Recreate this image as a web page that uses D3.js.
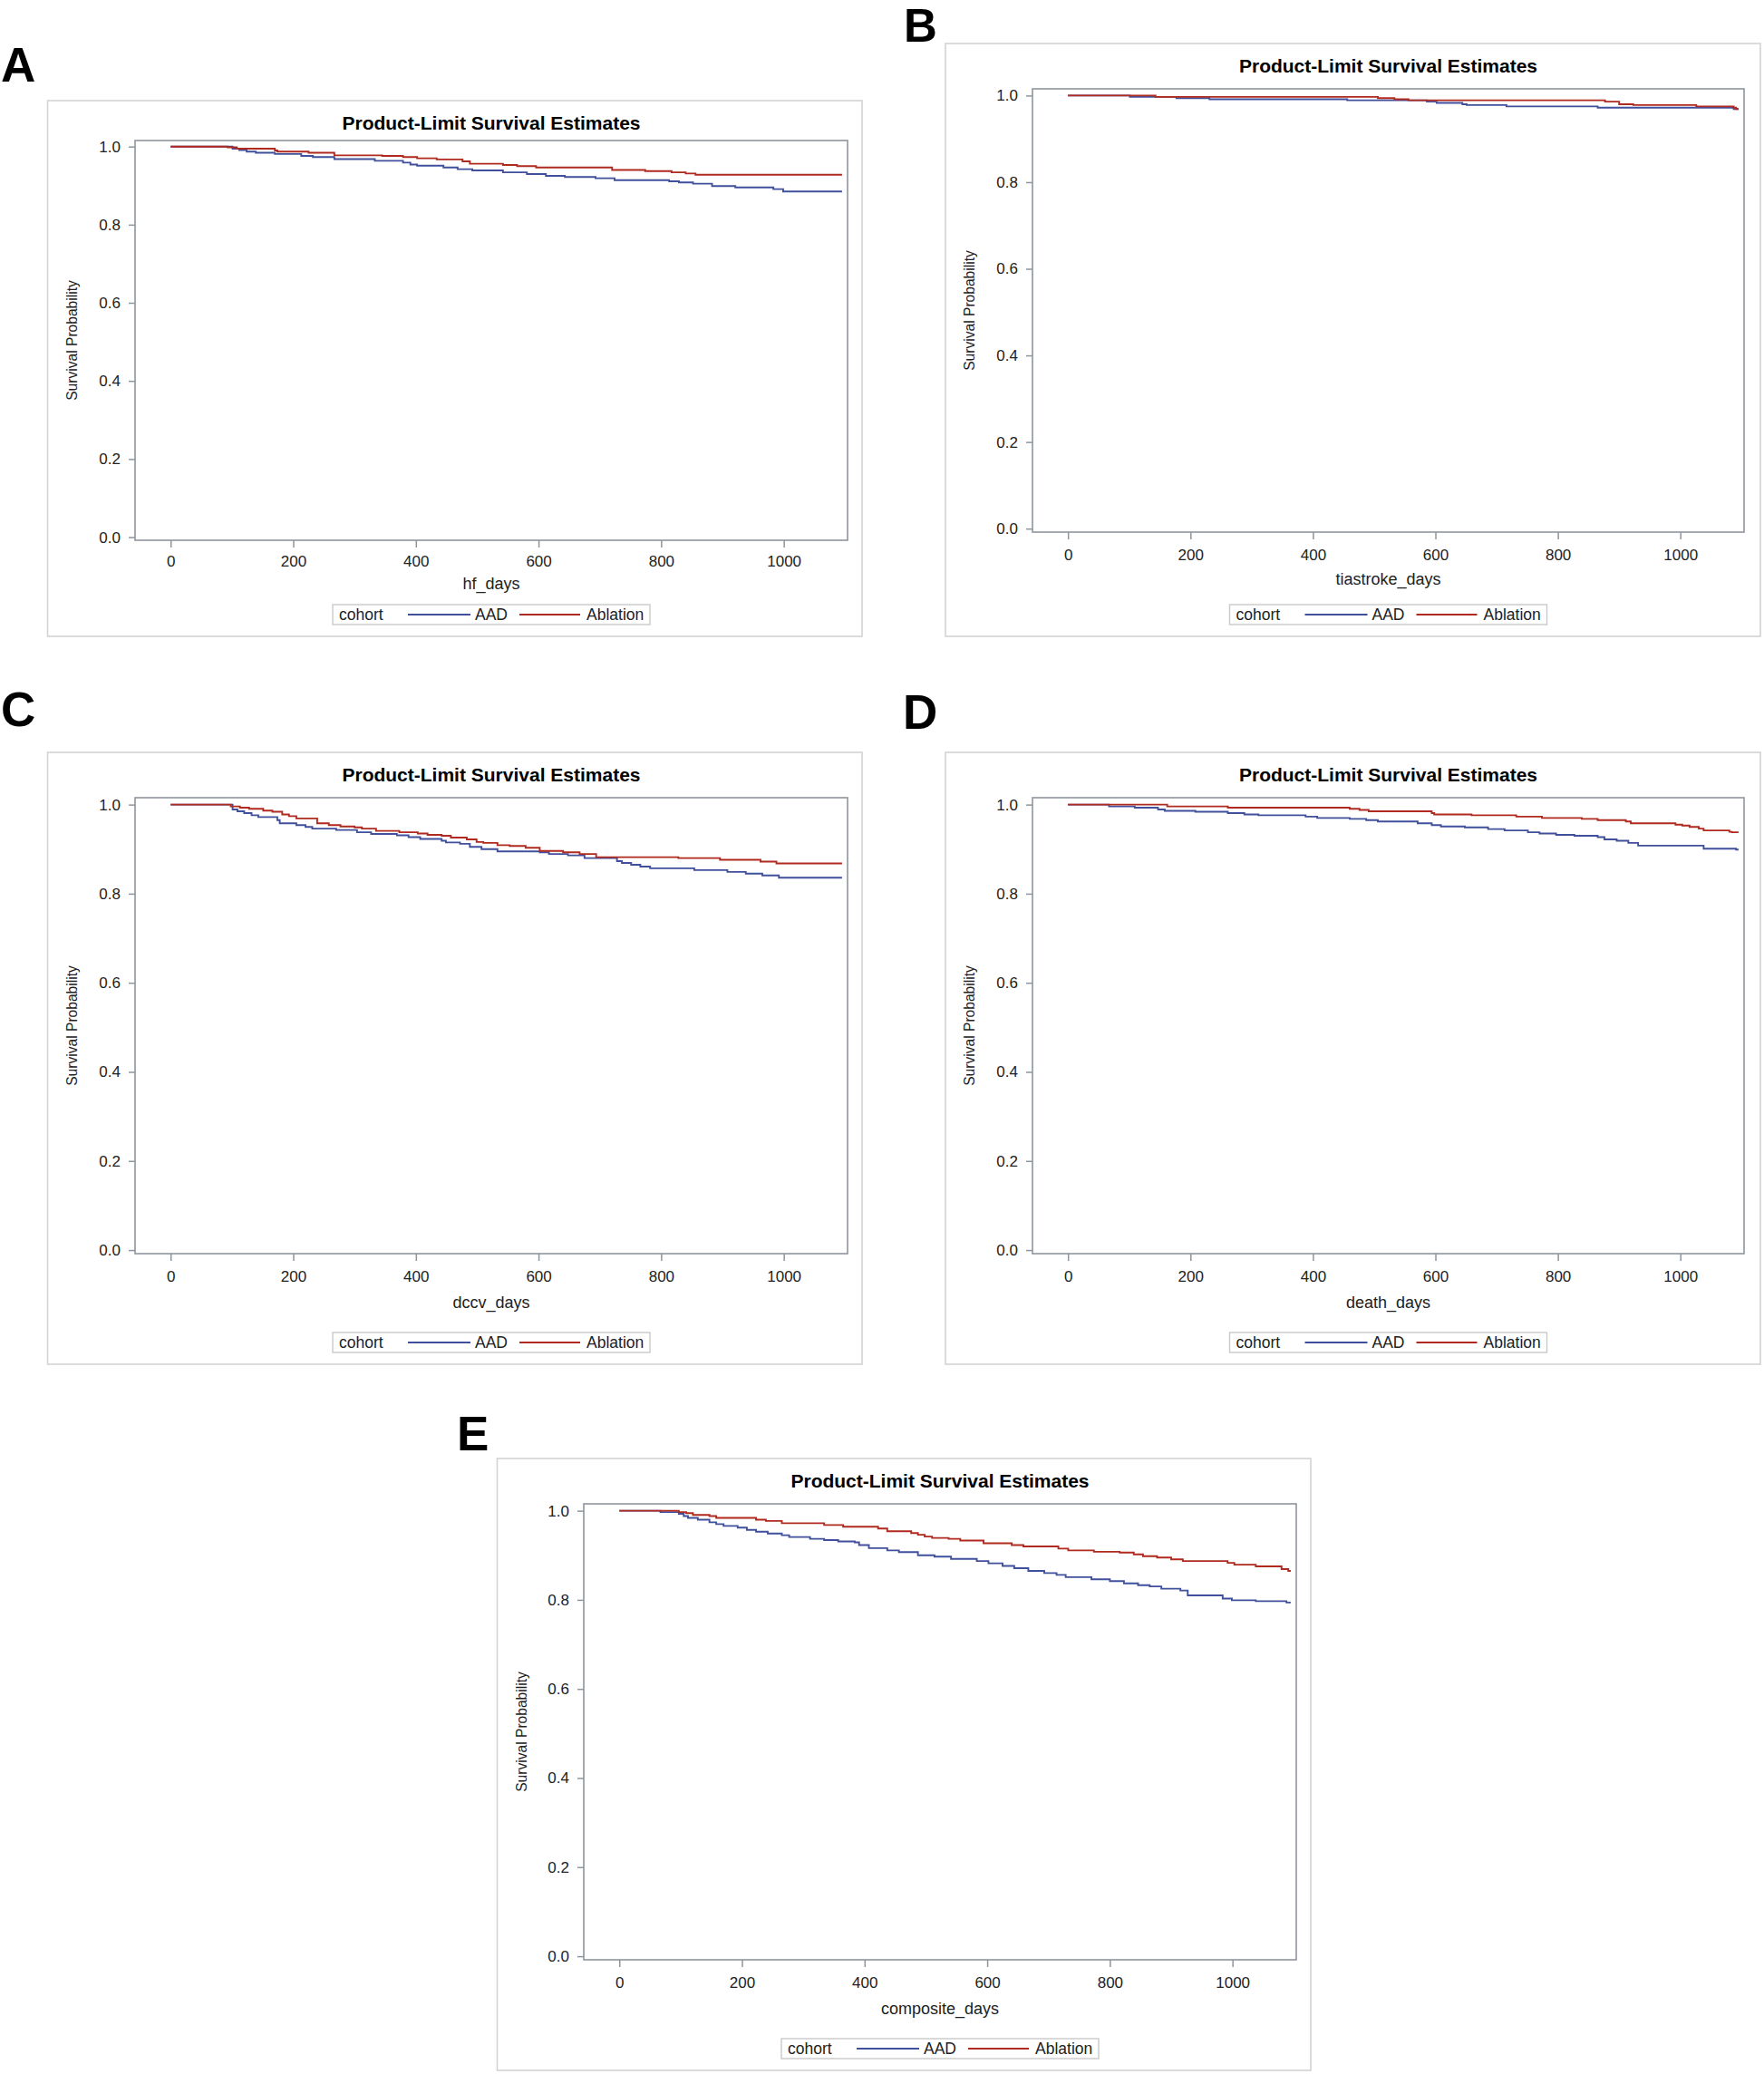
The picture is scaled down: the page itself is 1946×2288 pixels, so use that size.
<!DOCTYPE html>
<html><head><meta charset="utf-8">
<script src="https://cdn.jsdelivr.net/npm/d3@7"></script>
<style>
body{margin:0;background:#fff}
svg{display:block;background:#fff}
text{font-family:"Liberation Sans",Arial,Helvetica,sans-serif}
</style>
</head><body>
<svg id="c" width="1946" height="2288"></svg>
<script>
// ---------- data ----------
const xTicks = [0, 200, 400, 600, 800, 1000];
const yTicks = [0.0, 0.2, 0.4, 0.6, 0.8, 1.0];
const cohorts = ["AAD", "Ablation"];
const panelLetters = ["A", "B", "C", "D", "E"];
const xLabels = ["hf_days", "tiastroke_days", "dccv_days", "death_days", "composite_days"];
const chartTitle = "Product-Limit Survival Estimates";
const yLabel = "Survival Probability";
const legendTitle = "cohort";

// [day, survival] step points (value holds from that day on)
const hfAAD = [[0,1],[101,0.9945],[112,0.991],[124,0.987],[139,0.984],[170,0.981],[213,0.976],[232,0.973],[267,0.968],[333,0.9635],[379,0.959],[391,0.954],[402,0.951],[445,0.9465],[468,0.942],[492,0.939],[542,0.934],[581,0.9295],[612,0.925],[643,0.922],[693,0.919],[724,0.914],[813,0.911],[829,0.908],[852,0.905],[883,0.899],[921,0.8955],[983,0.891],[999,0.885],[1095,0.885]];
const hfAblation = [[0,1],[93,0.998],[108,0.9945],[170,0.990],[174,0.987],[225,0.984],[267,0.9775],[345,0.976],[379,0.973],[402,0.970],[434,0.967],[476,0.962],[488,0.956],[542,0.953],[565,0.950],[596,0.9465],[720,0.940],[774,0.937],[817,0.934],[840,0.931],[856,0.928],[1095,0.928]];

const tiaAAD = [[0,1],[101,0.997],[177,0.994],[231,0.9915],[456,0.989],[586,0.986],[602,0.983],[644,0.980],[651,0.978],[716,0.975],[865,0.972],[1087,0.969],[1095,0.969]];
const tiaAblation = [[0,1],[143,0.997],[506,0.994],[533,0.9915],[556,0.989],[877,0.986],[900,0.980],[923,0.978],[1026,0.975],[1087,0.972],[1091,0.969],[1095,0.969]];

const dccvAAD = [[0,1],[101,0.989],[109,0.985],[120,0.981],[132,0.976],[143,0.972],[174,0.965],[178,0.958],[205,0.954],[220,0.950],[231,0.946],[270,0.943],[304,0.938],[327,0.934],[369,0.931],[388,0.927],[407,0.923],[442,0.919],[449,0.915],[472,0.912],[488,0.905],[507,0.900],[533,0.895],[602,0.893],[617,0.889],[648,0.886],[675,0.880],[728,0.873],[736,0.869],[751,0.865],[766,0.861],[782,0.857],[854,0.853],[908,0.849],[938,0.845],[965,0.841],[992,0.836],[1095,0.836]];
const dccvAblation = [[0,1],[98,0.996],[113,0.993],[128,0.9905],[151,0.9865],[166,0.984],[182,0.978],[193,0.974],[205,0.969],[239,0.958],[258,0.954],[277,0.951],[300,0.949],[312,0.946],[335,0.941],[373,0.938],[403,0.935],[419,0.932],[442,0.930],[457,0.926],[483,0.922],[499,0.916],[510,0.914],[533,0.909],[553,0.907],[579,0.903],[602,0.896],[640,0.893],[667,0.889],[694,0.882],[828,0.880],[896,0.876],[962,0.872],[988,0.868],[1095,0.868]];

const deathAAD = [[0,1],[67,0.996],[109,0.993],[147,0.989],[158,0.986],[208,0.984],[261,0.981],[288,0.978],[311,0.976],[388,0.973],[407,0.970],[460,0.968],[487,0.965],[506,0.962],[571,0.958],[594,0.954],[609,0.951],[648,0.949],[686,0.945],[713,0.942],[751,0.938],[770,0.935],[797,0.932],[827,0.930],[865,0.927],[876,0.922],[896,0.919],[915,0.914],[931,0.908],[1038,0.901],[1091,0.899],[1095,0.899]];
const deathAblation = [[0,1],[162,0.996],[261,0.993],[460,0.9905],[476,0.988],[491,0.985],[594,0.981],[598,0.978],[659,0.976],[732,0.973],[774,0.970],[839,0.968],[865,0.965],[911,0.962],[919,0.958],[992,0.955],[1003,0.953],[1015,0.950],[1030,0.946],[1038,0.942],[1080,0.939],[1084,0.938],[1095,0.938]];

const compAAD = [[0,1],[67,0.997],[97,0.993],[105,0.988],[112,0.984],[128,0.980],[147,0.974],[158,0.970],[170,0.966],[193,0.962],[208,0.957],[223,0.953],[242,0.949],[265,0.945],[277,0.941],[311,0.937],[334,0.934],[357,0.931],[384,0.929],[391,0.923],[407,0.916],[437,0.911],[456,0.907],[487,0.900],[514,0.897],[541,0.892],[583,0.887],[602,0.882],[625,0.876],[644,0.871],[667,0.865],[693,0.860],[713,0.856],[728,0.851],[770,0.846],[800,0.842],[823,0.837],[846,0.833],[865,0.830],[884,0.825],[915,0.821],[927,0.810],[984,0.803],[999,0.799],[1038,0.797],[1088,0.794],[1095,0.794]];
const compAblation = [[0,1],[97,0.997],[109,0.9945],[120,0.9905],[147,0.988],[158,0.984],[223,0.980],[239,0.977],[265,0.972],[334,0.968],[365,0.964],[422,0.960],[437,0.954],[476,0.950],[487,0.946],[498,0.942],[510,0.939],[537,0.937],[556,0.933],[594,0.927],[640,0.923],[659,0.920],[716,0.915],[732,0.911],[774,0.908],[816,0.906],[839,0.902],[854,0.898],[877,0.895],[900,0.891],[919,0.887],[992,0.883],[1003,0.879],[1038,0.875],[1080,0.869],[1091,0.865],[1095,0.865]];

const panelSeries = [
  [hfAAD, hfAblation],
  [tiaAAD, tiaAblation],
  [dccvAAD, dccvAblation],
  [deathAAD, deathAblation],
  [compAAD, compAblation]
];

// ---------- layout / style ----------
const layout = [
  {frame:[52.5,111,951,702],   plot:[149,155,935,596],    letter:[1,90,53],   xlab:[29,54]},
  {frame:[1043,48,1942,702],   plot:[1139,98,1924,587],   letter:[997,46,51], xlab:[31,58]},
  {frame:[52.5,830,951,1505],  plot:[149,880,935,1383],   letter:[1,801,53],  xlab:[31,60]},
  {frame:[1043,830,1942,1505], plot:[1139,880,1924,1383], letter:[996,804,53],xlab:[31,60]},
  {frame:[548.5,1609,1446,2284], plot:[644,1659,1430,2162], letter:[504,1600,53], xlab:[31,60]}
];
const xDomain = [-58, 1104];
const yDomain = [-0.008, 1.0155];
const colors = {AAD: "#40509c", Ablation: "#b02a20"};
const axisGrey = "#8e959c";
const textCol = "#222";

const svg = d3.select("#c");

layout.forEach((L, i) => {
  const [fx0, fy0, fx1, fy1] = L.frame;
  const [px0, py0, px1, py1] = L.plot;
  const g = svg.append("g");

  // panel letter
  g.append("text").attr("x", L.letter[0]).attr("y", L.letter[1])
    .attr("font-size", L.letter[2]).attr("font-weight", "bold").attr("fill", "#000")
    .text(panelLetters[i]);

  // outer frame
  g.append("rect").attr("x", fx0).attr("y", fy0)
    .attr("width", fx1 - fx0).attr("height", fy1 - fy0)
    .attr("fill", "#fff").attr("stroke", "#d3d3d3").attr("stroke-width", 1.6);

  const x = d3.scaleLinear().domain(xDomain).range([px0, px1]);
  const y = d3.scaleLinear().domain(yDomain).range([py1, py0]);
  const cx = (px0 + px1) / 2;

  // title
  g.append("text").attr("x", cx).attr("y", fy0 + 32)
    .attr("text-anchor", "middle").attr("font-size", 21).attr("font-weight", "bold")
    .attr("fill", "#000").text(chartTitle);

  // axes
  const yAxis = d3.axisLeft(y).tickValues(yTicks).tickFormat(d3.format(".1f"))
    .tickSize(7).tickPadding(9).tickSizeOuter(0);
  const xAxis = d3.axisBottom(x).tickValues(xTicks).tickFormat(d3.format("d"))
    .tickSize(8).tickPadding(L.xlab[0] - 20).tickSizeOuter(0);

  const ya = g.append("g").attr("transform", `translate(${px0},0)`).call(yAxis);
  const xa = g.append("g").attr("transform", `translate(0,${py1})`).call(xAxis);
  [ya, xa].forEach(a => {
    a.select(".domain").remove();
    a.selectAll(".tick line").attr("stroke", axisGrey).attr("stroke-width", 1.5);
    a.selectAll(".tick text").attr("fill", textCol).attr("font-size", 17)
      .style("font-family", '"Liberation Sans",Arial,sans-serif');
  });

  // plot frame
  g.append("rect").attr("x", px0).attr("y", py0)
    .attr("width", px1 - px0).attr("height", py1 - py0)
    .attr("fill", "none").attr("stroke", axisGrey).attr("stroke-width", 1.6);

  // axis labels
  g.append("text").attr("x", cx).attr("y", py1 + L.xlab[1])
    .attr("text-anchor", "middle").attr("font-size", 18).attr("fill", textCol)
    .text(xLabels[i]);
  g.append("text")
    .attr("transform", `translate(${fx0 + 32},${(py0 + py1) / 2}) rotate(-90)`)
    .attr("text-anchor", "middle").attr("font-size", 15.6).attr("fill", textCol)
    .text(yLabel);

  // curves
  const line = d3.line().x(d => x(d[0])).y(d => y(d[1])).curve(d3.curveStepAfter);
  panelSeries[i].forEach((data, k) => {
    g.append("path").datum(data).attr("d", line)
      .attr("fill", "none").attr("stroke", colors[cohorts[k]])
      .attr("stroke-width", 1.9);
  });

  // legend
  const lw = 350, lh = 22;
  const lx = cx - lw / 2, ly = fy1 - 13 - lh;
  const lg = g.append("g").attr("transform", `translate(${lx},${ly})`);
  lg.append("rect").attr("width", lw).attr("height", lh)
    .attr("fill", "#fff").attr("stroke", "#c9c9c9").attr("stroke-width", 1.4);
  lg.append("text").attr("x", 7).attr("y", 17).attr("font-size", 17.5)
    .attr("fill", textCol).text(legendTitle);
  const items = [
    {name: cohorts[0], l0: 83, l1: 152, t: 157},
    {name: cohorts[1], l0: 206, l1: 273, t: 280}
  ];
  items.forEach(it => {
    lg.append("line").attr("x1", it.l0).attr("x2", it.l1)
      .attr("y1", lh / 2).attr("y2", lh / 2)
      .attr("stroke", colors[it.name]).attr("stroke-width", 1.9);
    lg.append("text").attr("x", it.t).attr("y", 17).attr("font-size", 17.5)
      .attr("fill", textCol).text(it.name);
  });
});
</script>
</body></html>
